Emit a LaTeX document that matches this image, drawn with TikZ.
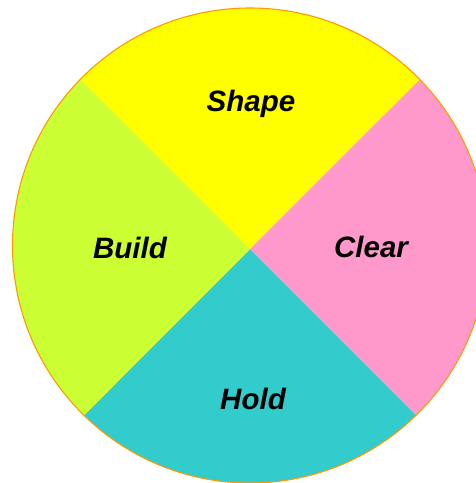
\documentclass[tikz,border=0pt]{standalone}
\usepackage{fontspec}
\setmainfont{Liberation Sans}
\definecolor{cyel}{HTML}{FFFF00}
\definecolor{cgrn}{HTML}{CCFF33}
\definecolor{cpnk}{HTML}{FF99CC}
\definecolor{ctea}{HTML}{33CCCC}
\definecolor{corg}{HTML}{FF9900}
\begin{document}
\begin{tikzpicture}[x=1pt,y=-1pt,
  lbl/.style={font=\fontsize{29.5}{32}\selectfont\bfseries\itshape, text=black, anchor=base, inner sep=0pt}]
\useasboundingbox (0,0) rectangle (475,483);
\coordinate (c) at (250,249);
\begin{scope}
  \clip (250,245.5) circle[radius=237.5];
  \fill[cyel] (c) -- (-300,-300) -- (800,-300) -- cycle;
  \fill[cpnk] (c) -- (800,-300) -- (800,800) -- cycle;
  \fill[ctea] (c) -- (800,800) -- (-300,800) -- cycle;
  \fill[cgrn] (c) -- (-300,800) -- (-300,-300) -- cycle;
\end{scope}
\draw[corg, line width=1.1pt] (250,245.5) circle[radius=237.5];
\node[lbl] (shape) at (251,111) {Shape};
\node[lbl] (build) at (130,258) {Build};
\node[lbl] (clear) at (371,257) {Clear};
\node[lbl] (hold) at (253,409) {Hold};
\end{tikzpicture}
\end{document}
